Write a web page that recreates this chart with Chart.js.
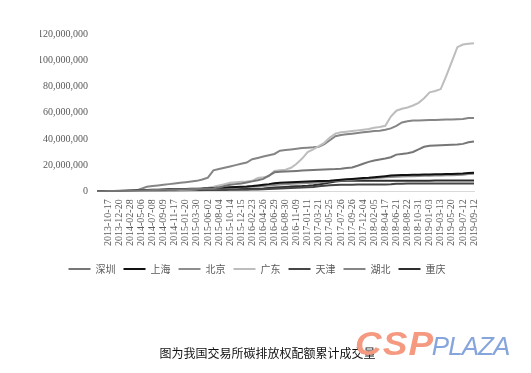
<!DOCTYPE html>
<html>
<head>
<meta charset="utf-8">
<script src="https://cdn.jsdelivr.net/npm/chart.js@4/dist/chart.umd.min.js"></script>
<style>
  html, body { margin: 0; padding: 0; background: #ffffff; }
  #wrap { position: relative; width: 531px; height: 373px; overflow: hidden; }
  #c { position: absolute; left: 0; top: 0; }
  #caption { position: absolute; left: 0; width: 535px; top: 344px; text-align: center;
    font-family: "Noto Sans CJK SC", sans-serif; font-size: 12px; color: #111; }
  #mark { position: absolute; left: 355px; top: 325px; white-space: nowrap; font-family: "Liberation Sans", Arial, sans-serif; font-style: italic; }
  #mark .a { color: #f59a80; font-weight: 900; font-size: 33px; letter-spacing: 1px; display: inline-block; transform: scaleX(1.12); transform-origin: left; margin-right: 6px; }
  #mark .b { color: #86a5dc; font-size: 26px; letter-spacing: -1px; }
</style>
</head>
<body>
<div id="wrap">
  <canvas id="c" width="531" height="373"></canvas>
  <div id="caption">图为我国交易所碳排放权配额累计成交量</div>
  <div id="mark"><span class="a">CSP</span><span class="b">PLAZA</span></div>
</div>
<script>
// Tick dates shown on the x axis
const tickLabels = ['2013-10-17','2013-12-20','2014-02-28','2014-05-06','2014-07-08','2014-09-09','2014-11-17','2015-01-20','2015-03-30','2015-06-02','2015-08-04','2015-10-14','2015-12-15','2016-02-23','2016-04-26','2016-06-29','2016-08-30','2016-11-09','2017-01-11','2017-03-21','2017-05-25','2017-07-26','2017-09-26','2017-12-04','2018-02-05','2018-04-17','2018-06-21','2018-08-22','2018-10-31','2019-01-03','2019-03-13','2019-05-20','2019-07-12','2019-09-12'];

// Series names (legend order)
const seriesNames = ['深圳','上海','北京','广东','天津','湖北','重庆'];

// Cumulative volume, in millions (sampled twice per tick interval; first two samples precede 2013-10-17)
const shenzhen = [0,0.1,0.2,0.3,0.4,0.5,0.6,0.7,0.8,0.9,1,1.1,1.2,1.3,1.4,1.5,1.6,1.7,1.8,2,2.2,2.4,3,4,5,5.5,6,6.8,7.6,8.5,9.5,12,14.5,15,15.2,15.4,15.6,15.8,16,16.2,16.4,16.6,16.8,17,17.3,17.8,18.2,19.5,21,22.5,23.5,24.3,25,26,28,28.5,29,30,32,34,34.8,35,35.2,35.4,35.6,35.8,36.2,37.5,38];
const shanghai = [0,0,0,0.1,0.3,0.5,0.7,0.9,1,1.1,1.2,1.3,1.4,1.5,1.6,1.7,1.8,1.9,2,2.1,2.3,2.5,2.7,2.9,3.1,3.3,3.5,3.7,4,4.5,5,5.5,6.2,6.5,6.7,6.9,7.1,7.3,7.5,7.7,7.8,7.8,8,8.5,8.9,9.2,9.5,9.8,10.1,10.4,10.8,11.2,11.6,12,12.3,12.4,12.5,12.6,12.7,12.8,12.9,13,13.1,13.2,13.3,13.5,13.7,14,14.2];
const beijing = [0,0,0,0.05,0.1,0.2,0.3,0.4,0.5,0.6,0.8,1,1.1,1.2,1.3,1.4,1.5,1.6,1.7,1.8,2,2.2,2.4,2.6,2.8,3,3.2,3.4,3.6,3.8,4.1,4.4,4.8,5.2,5.5,5.7,5.9,6.1,6.3,6.5,6.8,7.2,7.6,8,8.3,8.6,8.9,9.2,9.5,9.8,10.1,10.4,10.7,11,11.2,11.4,11.5,11.6,11.7,11.8,11.9,12,12.1,12.2,12.3,12.5,12.7,13.2,13.5];
const guangdong = [0,0,0,0,0,0,0.2,0.3,0.4,0.5,0.6,0.7,0.8,0.9,1,1.1,1.2,1.4,1.6,2.2,2.8,3.5,4.5,5.5,6.5,7,7.3,7.6,8,10.2,10.8,11.5,15.5,16,16.5,18,21,25,30,32,34.5,37,41,44,45,45.5,46,46.5,47,47.5,48.5,49,50,57,61.5,63,64,65.5,67.5,71,75.5,76.5,78,88,99,110,112,112.5,113];
const tianjin = [0,0,0,0,0,0.1,0.2,0.3,0.35,0.4,0.45,0.5,0.55,0.6,0.65,0.7,0.75,0.8,0.85,0.9,0.95,1,1.05,1.1,1.15,1.2,1.25,1.3,1.35,1.4,1.5,1.7,1.9,2.1,2.3,2.5,2.7,2.9,3.1,3.4,3.8,4.2,4.6,4.9,5,5.1,5.1,5.15,5.2,5.2,5.25,5.3,5.3,5.4,5.8,5.85,5.9,5.9,5.9,5.9,5.9,5.9,5.9,5.9,5.9,5.9,5.9,6,6];
const hubei = [0,0,0,0,0,0,0,0.5,2,3.5,4,4.5,5,5.5,6,6.5,7,7.5,8,9,10.5,16,17,18,19,20,21,22,24.5,25.5,26.5,27.5,28.5,31,31.5,32,32.5,33,33.3,33.6,34,36,39,42,43,43.5,44,44.5,45,45.5,46,46.3,47,48,50,52.5,53.5,54,54,54.2,54.4,54.5,54.6,54.7,54.8,55,55.2,56,56];
const chongqing = [0,0,0,0,0,0,0,0,0,0,0.1,0.2,0.3,0.4,0.5,0.6,0.7,0.8,0.9,1,1.1,1.2,1.3,1.4,1.5,1.6,1.7,1.8,1.9,2,2.2,2.6,3,3.2,3.4,3.6,3.8,4,4.3,4.7,5.2,6,6.8,7.5,7.8,8,8,8,8,8,8,8,8,8.05,8.1,8.1,8.1,8.1,8.15,8.15,8.15,8.2,8.2,8.2,8.2,8.2,8.2,8.25,8.3];

// Y axis ticks
const yMax = 120000000;
const yStep = 20000000;

const seriesValues = [shenzhen, shanghai, beijing, guangdong, tianjin, hubei, chongqing];
const seriesColors = ['#767676','#111111','#8e8e8e','#bdbdbd','#464646','#858585','#2e2e2e'];

const n = shenzhen.length;
const categories = [];
for (let i = 0; i < n; i++) {
  categories.push(i >= 2 && (i - 2) % 2 === 0 ? tickLabels[(i - 2) / 2] : '');
}

const datasets = seriesNames.map((name, k) => ({
  label: name,
  data: seriesValues[k].map(v => v * 1000000),
  borderColor: seriesColors[k],
  backgroundColor: seriesColors[k],
  borderWidth: 2,
  pointRadius: 0,
  pointHoverRadius: 0,
  tension: 0,
  fill: false
}));

new Chart(document.getElementById('c'), {
  type: 'line',
  data: { labels: categories, datasets },
  options: {
    responsive: false,
    animation: false,
    events: [],
    layout: { padding: { left: 40, right: 57, top: 34, bottom: 89 } },
    plugins: {
      tooltip: { enabled: false },
      legend: {
        position: 'bottom',
        labels: {
          usePointStyle: true,
          pointStyle: 'line',
          pointStyleWidth: 22,
          boxHeight: 10,
          padding: 8,
          color: '#595959',
          font: { family: '"Noto Sans CJK SC", sans-serif', size: 10 }
        }
      }
    },
    scales: {
      x: {
        type: 'category',
        offset: false,
        afterFit: (axis) => { axis.height = axis.height + 2; },
        grid: { display: false, drawTicks: false },
        border: { display: true, color: '#d9d9d9', width: 1 },
        ticks: {
          autoSkip: false,
          maxRotation: 90,
          minRotation: 90,
          padding: 8,
          color: '#595959',
          font: { family: '"Liberation Serif", "Times New Roman", serif', size: 10 }
        }
      },
      y: {
        min: 0,
        max: yMax,
        afterFit: (axis) => { axis.width = 57; },
        grid: { display: false, drawTicks: false },
        border: { display: false },
        ticks: {
          stepSize: yStep,
          padding: 9,
          color: '#595959',
          font: { family: '"Liberation Serif", "Times New Roman", serif', size: 10 },
          callback: (v) => Number(v).toLocaleString('en-US')
        }
      }
    }
  }
});
</script>
</body>
</html>
